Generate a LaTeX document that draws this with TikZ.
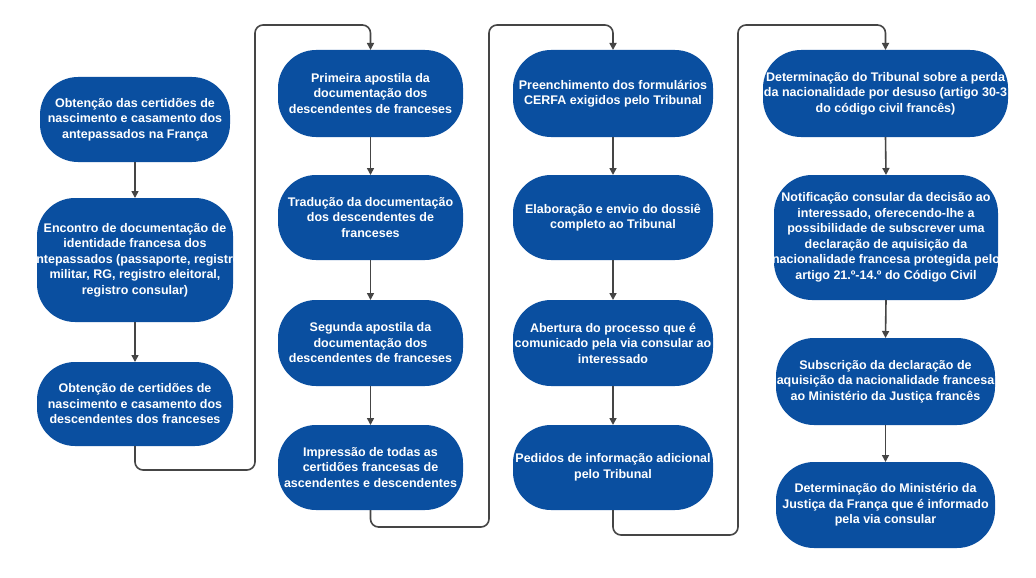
\documentclass[tikz,border=0pt]{standalone}
\usepackage{fontspec}
\setmainfont{Liberation Sans}
\usetikzlibrary{arrows.meta}
\definecolor{boxblue}{HTML}{0A4FA0}
\definecolor{linegray}{HTML}{454545}
\tikzset{
 box/.style={fill=boxblue,rounded corners=38pt,text=white,font=\fontsize{12.5}{15.5}\selectfont\bfseries,align=center,inner sep=0pt},
 conn/.style={draw=linegray,line width=1.6pt,-{Triangle[length=7pt,width=7pt]},rounded corners=8pt}
}
\newcommand{\bx}[6]{% name, x1,y1,x2,y2,text
 \path[box] (#2,#3) rectangle (#4,#5);
 \node[text=white,font=\fontsize{12.5}{15.5}\selectfont\bfseries,align=center] (#1) at ({(#2+#4)/2},{(#3+#5)/2}) {#6};
 \coordinate (#1t) at ({(#2+#4)/2},#3);
 \coordinate (#1b) at ({(#2+#4)/2},#5);
}
\begin{document}
\begin{tikzpicture}[x=1pt,y=-1pt]
\useasboundingbox[fill=white] (0,0) rectangle (1036,578);
\bx{a1}{40}{77}{230}{162}{Obtenção das certidões de\\nascimento e casamento dos\\antepassados na França}
\bx{a2}{37}{198}{233}{322}{Encontro de documentação de\\identidade francesa dos\\antepassados (passaporte, registro\\militar, RG, registro eleitoral,\\registro consular)}
\bx{a3}{37}{362}{233}{446}{Obtenção de certidões de\\nascimento e casamento dos\\descendentes dos franceses}
\bx{b1}{278}{50}{463}{137}{Primeira apostila da\\documentação dos\\descendentes de franceses}
\bx{b2}{278}{175}{463}{260}{Tradução da documentação\\dos descendentes de\\franceses}
\bx{b3}{278}{300}{463}{386}{Segunda apostila da\\documentação dos\\descendentes de franceses}
\bx{b4}{278}{425}{463}{510}{Impressão de todas as\\certidões francesas de\\ascendentes e descendentes}
\bx{c1}{513}{50}{713}{137}{Preenchimento dos formulários\\CERFA exigidos pelo Tribunal}
\bx{c2}{513}{175}{713}{260}{Elaboração e envio do dossiê\\completo ao Tribunal}
\bx{c3}{513}{300}{713}{386}{Abertura do processo que é\\comunicado pela via consular ao\\interessado}
\bx{c4}{513}{425}{713}{510}{Pedidos de informação adicional\\pelo Tribunal}
\bx{d1}{763}{50}{1008}{137}{Determinação do Tribunal sobre a perda\\da nacionalidade por desuso (artigo 30-3\\do código civil francês)}
\bx{d2}{774}{175}{998}{300}{Notificação consular da decisão ao\\interessado, oferecendo-lhe a\\possibilidade de subscrever uma\\declaração de aquisição da\\nacionalidade francesa protegida pelo\\artigo 21.º-14.º do Código Civil}
\bx{d3}{776}{338}{995}{425}{Subscrição da declaração de\\aquisição da nacionalidade francesa\\ao Ministério da Justiça francês}
\bx{d4}{776}{462}{995}{548}{Determinação do Ministério da\\Justiça da França que é informado\\pela via consular}
\draw[conn] (a1b) -- (a2t);
\draw[conn] (a2b) -- (a3t);
\draw[conn] (b1b) -- (b2t);
\draw[conn] (b2b) -- (b3t);
\draw[conn] (b3b) -- (b4t);
\draw[conn] (c1b) -- (c2t);
\draw[conn] (c2b) -- (c3t);
\draw[conn] (c3b) -- (c4t);
\draw[conn] (d1b) -- (d2t);
\draw[conn] (d2b) -- (d3t);
\draw[conn] (d3b) -- (d4t);
\draw[conn] (a3b) |- (255,470) |- (370.5,25) -- (b1t);
\draw[conn] (b4b) |- (489,527) |- (613,25) -- (c1t);
\draw[conn] (c4b) |- (738,535) |- (885.5,25) -- (d1t);
\end{tikzpicture}
\end{document}
